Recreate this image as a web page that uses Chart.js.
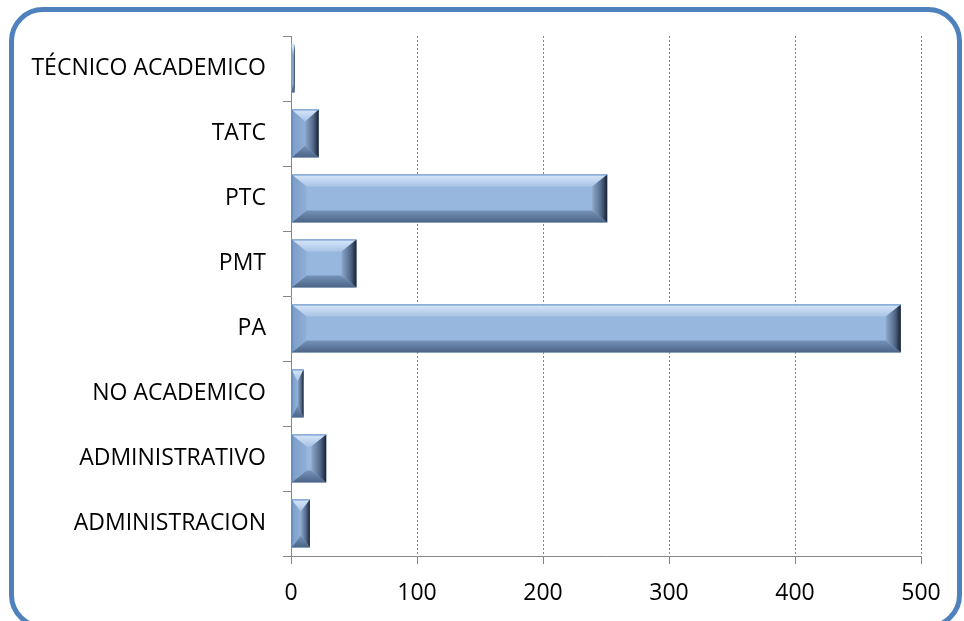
<!DOCTYPE html>
<html>
<head>
<meta charset="utf-8">
<script src="https://cdn.jsdelivr.net/npm/chart.js@4/dist/chart.umd.min.js"></script>
<style>
  html, body { margin: 0; padding: 0; background: #fff; }
  #wrap { position: relative; width: 964px; height: 621px; overflow: hidden; }
  #marco {
    position: absolute; left: 9px; top: 7px; width: 943px; height: 612px;
    border: 5px solid #4F81BD; border-radius: 34px;
  }
  #grafica { position: absolute; left: 0; top: 0; }
</style>
</head>
<body>
<div id="wrap">
  <div id="marco"></div>
  <canvas id="grafica" width="964" height="621"></canvas>
</div>
<script>
// Datos
const categorias = ['TÉCNICO ACADEMICO', 'TATC', 'PTC', 'PMT', 'PA', 'NO ACADEMICO', 'ADMINISTRATIVO', 'ADMINISTRACION'];
const valores = [3, 22, 251, 52, 484, 10, 28, 15];
const ticksX = [0, 100, 200, 300, 400, 500];

const gris = '#868686';
const caraBarra = '#98B7DE';

// Dibuja el bisel de cada barra encima del rectángulo que pinta Chart.js
const biselPlugin = {
  id: 'bisel',
  afterDatasetsDraw(chart) {
    const ctx = chart.ctx;
    const meta = chart.getDatasetMeta(0);
    meta.data.forEach(bar => {
      const p = bar.getProps(['x', 'y', 'base', 'height'], true);
      const L = Math.min(p.base, p.x), R = Math.max(p.base, p.x);
      const T = p.y - p.height / 2, B = p.y + p.height / 2;
      const w = R - L, h = B - T;
      if (w <= 0) return;
      const bx = Math.min(15, w / 2), by = Math.min(12, h / 2);

      const poly = (pts, fill) => {
        ctx.beginPath();
        ctx.moveTo(pts[0][0], pts[0][1]);
        for (let i = 1; i < pts.length; i++) ctx.lineTo(pts[i][0], pts[i][1]);
        ctx.closePath();
        ctx.fillStyle = fill;
        ctx.fill();
      };
      ctx.save();
      // superior
      let g = ctx.createLinearGradient(0, T, 0, T + by);
      g.addColorStop(0, '#D8E7FA');
      g.addColorStop(1, '#A9C4E6');
      poly([[L, T], [R, T], [R - bx, T + by], [L + bx, T + by]], g);
      // inferior
      g = ctx.createLinearGradient(0, B - by, 0, B);
      g.addColorStop(0, '#7592B8');
      g.addColorStop(1, '#4B6486');
      poly([[L, B], [R, B], [R - bx, B - by], [L + bx, B - by]], g);
      // izquierdo
      g = ctx.createLinearGradient(L, 0, L + bx, 0);
      g.addColorStop(0, '#7C9CC6');
      g.addColorStop(1, '#8FAFD8');
      poly([[L, T], [L + bx, T + by], [L + bx, B - by], [L, B]], g);
      // derecho
      g = ctx.createLinearGradient(R - bx, 0, R, 0);
      g.addColorStop(0, '#8DA8C9');
      g.addColorStop(0.6, '#52688A');
      g.addColorStop(1, '#17212F');
      poly([[R, T], [R - bx, T + by], [R - bx, B - by], [R, B]], g);
      // borde fino a la izquierda y arriba
      if (w > 6) {
        ctx.strokeStyle = 'rgba(79,129,189,0.9)';
        ctx.lineWidth = 1;
        ctx.beginPath();
        ctx.moveTo(L + 0.5, B);
        ctx.lineTo(L + 0.5, T + 0.5);
        ctx.lineTo(R, T + 0.5);
        ctx.stroke();
      }
      ctx.restore();
    });
  }
};

new Chart(document.getElementById('grafica'), {
  type: 'bar',
  data: {
    labels: categorias,
    datasets: [{
      data: valores,
      backgroundColor: caraBarra,
      borderWidth: 0,
      barPercentage: 0.74,
      categoryPercentage: 1
    }]
  },
  options: {
    indexAxis: 'y',
    responsive: false,
    devicePixelRatio: 1,
    animation: false,
    layout: { padding: { left: 0, top: 36, right: 43, bottom: 0 } },
    plugins: { legend: { display: false }, tooltip: { enabled: false } },
    scales: {
      x: {
        min: 0,
        max: 500,
        afterBuildTicks: scale => { scale.ticks = ticksX.map(v => ({ value: v })); },
        afterFit: scale => { scale.height = 65; },
        grid: {
          color: c => (c.tick && c.tick.value === 0 ? 'rgba(0,0,0,0)' : gris),
          tickColor: gris,
          tickLength: 8,
          lineWidth: 1
        },
        border: { color: gris, width: 1, dash: [2, 2] },
        ticks: {
          padding: 16,
          color: '#000',
          font: { family: 'Open Sans', size: 23 }
        }
      },
      y: {
        afterFit: scale => { scale.width = 291; },
        grid: {
          drawOnChartArea: false,
          color: gris,
          tickLength: 8
        },
        border: { color: gris, width: 1 },
        ticks: {
          padding: 17,
          color: '#000',
          font: { family: 'Open Sans', size: 23 }
        }
      }
    }
  },
  plugins: [biselPlugin]
});
</script>
</body>
</html>
